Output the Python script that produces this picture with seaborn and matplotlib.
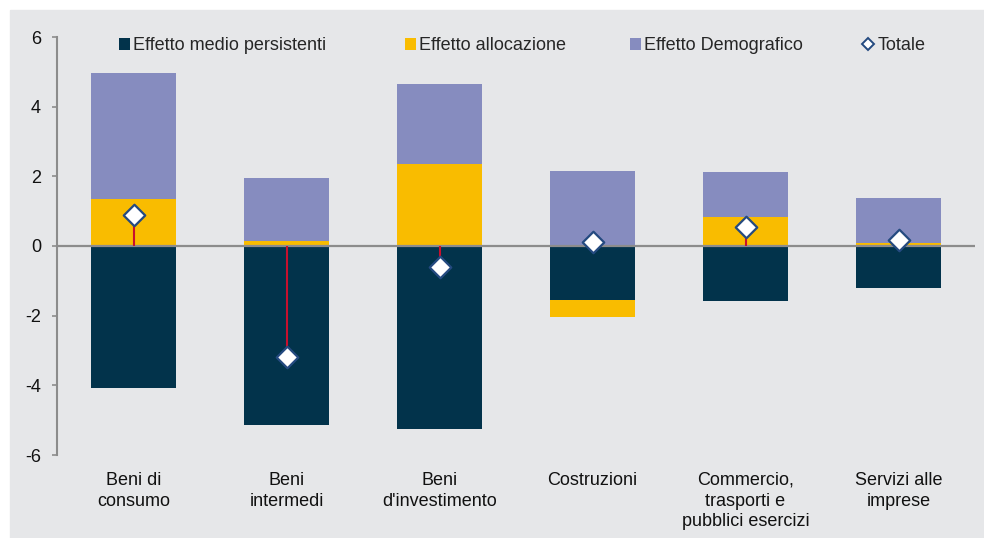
import matplotlib
matplotlib.use("Agg")
import matplotlib.pyplot as plt
from matplotlib.patches import Rectangle, Patch
from matplotlib.lines import Line2D
import numpy as np
import pandas as pd
import seaborn as sns

# Sector contributions (percentage points)
categories = [
    "Beni di\nconsumo",
    "Beni\nintermedi",
    "Beni\nd'investimento",
    "Costruzioni",
    "Commercio,\ntrasporti e\npubblici esercizi",
    "Servizi alle\nimprese",
]
effetto_medio = [-4.07, -5.14, -5.25, -1.55, -1.58, -1.21]
effetto_allocazione = [1.35, 0.14, 2.35, -0.49, 0.83, 0.08]
effetto_demografico = [3.61, 1.81, 2.30, 2.15, 1.29, 1.30]
totale = [0.89, -3.19, -0.60, 0.11, 0.54, 0.17]

series_names = ["Effetto medio persistenti", "Effetto allocazione", "Effetto Demografico"]
series_colors = ["#02334b", "#f9bc00", "#868cbf"]
total_label = "Totale"

sns.set_theme(style="white")
plt.rcParams["font.family"] = ["Liberation Sans", "DejaVu Sans"]

bg = "#e6e7e9"
axis_gray = "#8c8c8c"

fig = plt.figure(figsize=(9.84, 5.38), dpi=100)
fig.patch.set_facecolor("white")
fig.patches.append(Rectangle((10 / 984, 0), 1, 1 - 10 / 538,
                             transform=fig.transFigure, color=bg, zorder=-10))

ax = fig.add_axes([57 / 984, 1 - 455 / 538, (975 - 57) / 984, (455 - 37) / 538])
ax.set_facecolor("none")

df = pd.DataFrame({
    "settore": categories,
    series_names[0]: effetto_medio,
    series_names[1]: effetto_allocazione,
    series_names[2]: effetto_demografico,
    total_label: totale,
})

# Diverging stack: positives pile up from zero, negatives pile down from zero
pos_base = np.zeros(len(categories))
neg_base = np.zeros(len(categories))
bar_width = 0.556
for name, color in zip(series_names, series_colors):
    vals = df[name].to_numpy()
    bottoms = np.where(vals >= 0, pos_base, neg_base)
    sns.barplot(data=df, x="settore", y=name, color=color, bottom=bottoms,
                width=bar_width, linewidth=0, saturation=1, ax=ax,
                errorbar=None, zorder=2)
    pos_base = pos_base + np.where(vals >= 0, vals, 0)
    neg_base = neg_base + np.where(vals < 0, vals, 0)

# Zero line
ax.axhline(0, color=axis_gray, lw=1.6, zorder=3)

# Drop lines from zero to the total
xpos = np.arange(len(categories))
ax.vlines(xpos, 0, df[total_label], color="#c8102e", lw=1.5, zorder=4)

sns.scatterplot(data=df, x="settore", y=total_label, marker="D", s=120,
                color="white", edgecolor="#244a80", linewidth=1.6,
                zorder=5, ax=ax, legend=False)

ax.set_xlim(-0.5, len(categories) - 0.5)
ax.set_ylim(-6, 6)
ax.set_yticks(np.arange(-6, 7, 2))
ax.set_yticklabels([f"{v:d}" for v in range(-6, 7, 2)])
ax.set_xlabel("")
ax.set_ylabel("")
ax.set_xticks(xpos)
ax.set_xticklabels(categories, linespacing=1.3)

for side in ["top", "right", "bottom"]:
    ax.spines[side].set_visible(False)
ax.spines["left"].set_color(axis_gray)
ax.spines["left"].set_linewidth(1.5)

ax.tick_params(axis="y", direction="out", length=3.5, width=1.2, color=axis_gray,
               labelsize=13, labelcolor="#111111", pad=8, left=True)
ax.tick_params(axis="x", length=0, labelsize=13, labelcolor="#111111", pad=12)

# Legend entries laid out one by one across the top
handles = [Patch(facecolor=c, edgecolor="none") for c in series_colors]
handles.append(Line2D([], [], marker="D", linestyle="none", markersize=6.5,
                      markerfacecolor="white", markeredgecolor="#244a80",
                      markeredgewidth=1.4))
labels = series_names + [total_label]
entry_x = [119, 405, 630, 863]
for h, lab, x0 in zip(handles, labels, entry_x):
    leg = fig.legend([h], [lab], loc="center left",
                     bbox_to_anchor=(x0 / 984, 1 - 46 / 538),
                     frameon=False, fontsize=13, handlelength=0.6, handleheight=0.6,
                     handletextpad=0.2, borderpad=0, borderaxespad=0)

fig.savefig("out.png", dpi=100, facecolor="white")
